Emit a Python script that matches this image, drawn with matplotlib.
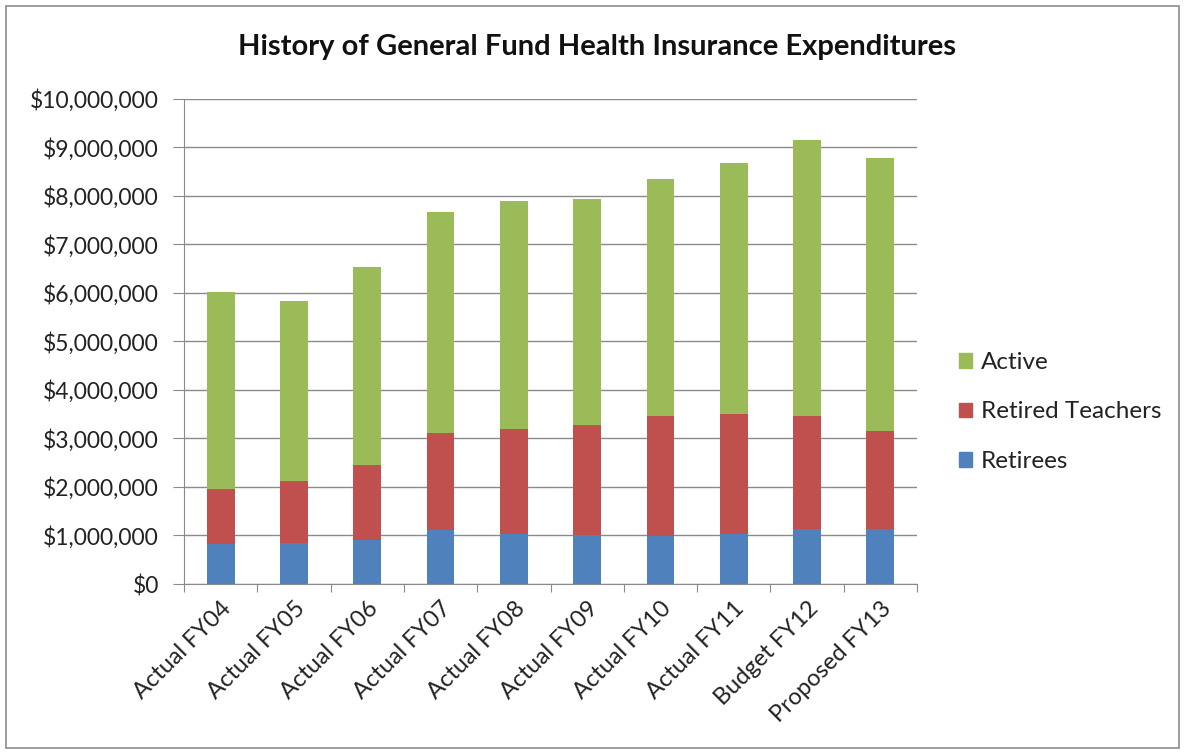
import matplotlib
matplotlib.use("Agg")
import matplotlib.pyplot as plt
from matplotlib.patches import Rectangle, Patch
from matplotlib.ticker import FuncFormatter, MultipleLocator

categories = ["Actual FY04", "Actual FY05", "Actual FY06", "Actual FY07", "Actual FY08",
              "Actual FY09", "Actual FY10", "Actual FY11", "Budget FY12", "Proposed FY13"]
retirees = [825000, 845000, 900000, 1120000, 1040000, 1000000, 980000, 1040000, 1130000, 1130000]
retired_teachers = [1135000, 1270000, 1560000, 1990000, 2155000, 2280000, 2480000, 2470000, 2340000, 2020000]
active = [4050000, 3715000, 4070000, 4550000, 4695000, 4660000, 4880000, 5170000, 5680000, 5630000]

series_names = ["Retirees", "Retired Teachers", "Active"]
colors = ["#4F81BD", "#C0504D", "#9BBB59"]

plt.rcParams['font.family'] = ['Lato', 'DejaVu Sans']

fig = plt.figure(figsize=(11.85, 7.53), dpi=100)
fig.patches.append(Rectangle((6/1185, 5/753), 1173/1185, 742/753, transform=fig.transFigure,
                             fill=False, edgecolor="#8c8c8c", linewidth=1.2))

ax = fig.add_axes([184/1185, 1 - 584/753, (917 - 184)/1185, (584 - 98.5)/753])
x = list(range(len(categories)))
bottom = [0] * len(categories)
for vals, name, c in zip([retirees, retired_teachers, active], series_names, colors):
    ax.bar(x, vals, width=0.38, bottom=bottom, color=c, label=name, zorder=3)
    bottom = [b + v for b, v in zip(bottom, vals)]

ax.set_xlim(-0.5, len(categories) - 0.5)
ax.set_ylim(0, 10000000)
ax.yaxis.set_major_locator(MultipleLocator(1000000))
ax.yaxis.set_major_formatter(FuncFormatter(lambda v, p: "${:,.0f}".format(v)))
ax.grid(axis="y", color="#8a8a8a", linewidth=1, zorder=0)
for s in ["top", "right"]:
    ax.spines[s].set_visible(False)
for s in ["left", "bottom"]:
    ax.spines[s].set_color("#8a8a8a")
ax.set_xticks([i - 0.5 for i in range(len(categories) + 1)], minor=False)
ax.set_xticklabels([])
ax.set_xticks(x, minor=True)
ax.set_xticklabels(categories, minor=True, rotation=45, ha="right", rotation_mode="anchor",
                   fontsize=17, color="#222222")
ax.tick_params(axis="x", which="major", length=6, color="#8a8a8a", direction="out")
ax.tick_params(axis="x", which="minor", length=0, pad=10)
ax.tick_params(axis="y", length=8, color="#8a8a8a", labelsize=16.5, labelcolor="#222222", pad=10)

fig.text(597/1185, 1 - 47/753, "History of General Fund Health Insurance Expenditures",
         ha="center", va="center", fontsize=21, fontweight="bold", color="#111111")

leg_handles = [Patch(color=colors[2], label="Active"),
               Patch(color=colors[1], label="Retired Teachers"),
               Patch(color=colors[0], label="Retirees")]
fig.legend(handles=leg_handles, loc="center left", bbox_to_anchor=(959/1185, 1 - 412/753),
           frameon=False, fontsize=17.5, handlelength=0.55, handleheight=0.55,
           handletextpad=0.35, labelspacing=1.17, labelcolor="#222222",
           borderpad=0, borderaxespad=0)

fig.savefig("out.png", dpi=100)
